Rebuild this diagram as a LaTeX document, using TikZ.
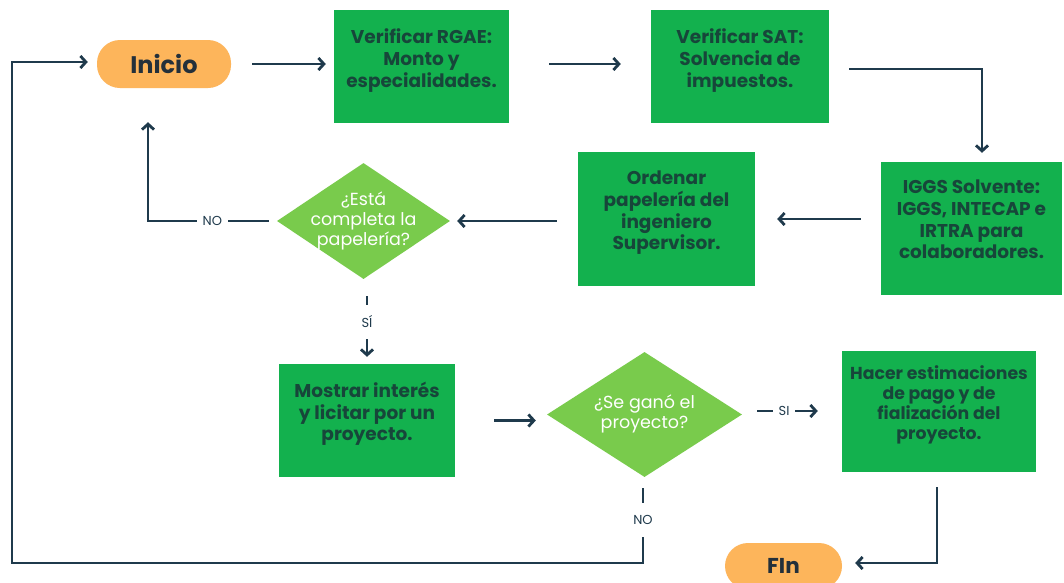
\documentclass[tikz,border=0pt]{standalone}
\usepackage{fontspec}
\setmainfont{Poppins}
\usetikzlibrary{shapes.geometric,arrows.meta,calc}
\definecolor{boxgreen}{HTML}{13B14E}
\definecolor{diagreen}{HTML}{79CB4C}
\definecolor{pill}{HTML}{FDB55B}
\definecolor{ink}{HTML}{1F3A4C}
\definecolor{boxink}{HTML}{17463A}
\definecolor{pillink}{HTML}{24303A}
\tikzset{
  stepbox/.style={rectangle, fill=boxgreen, draw=none, inner sep=0pt},
  boxtext/.style={align=center, text=boxink, font=\fontsize{18.5}{21.7}\selectfont\bfseries, inner sep=0pt, anchor=north},
  decision/.style={diamond, fill=diagreen, draw=none, inner sep=0pt},
  dtext/.style={align=center, text=white, font=\fontsize{17.5}{20}\selectfont, inner sep=0pt},
  terminal/.style={rectangle, rounded corners=23pt, fill=pill, draw=none, inner sep=0pt, text=pillink, font=\fontsize{24}{28}\selectfont\bfseries},
  conn/.style={draw=ink, line width=2.8pt},
  arr/.style={conn, -{Straight Barb[length=5.5pt,width=12pt]}},
  lbl/.style={fill=white, text=ink, font=\fontsize{13}{15}\selectfont, inner xsep=6pt, inner ysep=0pt},
}
\begin{document}
\begin{tikzpicture}[x=1pt,y=-1pt]
\useasboundingbox (0,0) rectangle (1064,582);
\fill[white] (0,0) rectangle (1064,582);
% nodes
\node[terminal, minimum width=134pt, minimum height=48pt] (inicio) at (164,64) {Inicio};
\node[stepbox, minimum width=175pt, minimum height=113pt] (rgae) at (421.5,66.5) {};
\node[boxtext] (trgae) at ([yshift=-19pt]rgae.north) {Verificar RGAE:\\Monto y\\especialidades.};
\node[stepbox, minimum width=178pt, minimum height=113pt] (sat) at (740,66.5) {};
\node[boxtext] (tsat) at ([yshift=-19pt]sat.north) {Verificar SAT:\\Solvencia de\\impuestos.};
\node[stepbox, minimum width=181pt, minimum height=133pt] (iggs) at (971.5,228.5) {};
\node[boxtext] (tiggs) at ([yshift=-18pt]iggs.north) {IGGS Solvente:\\IGGS, INTECAP e\\IRTRA para\\colaboradores.};
\node[stepbox, minimum width=177pt, minimum height=134pt] (orden) at (666.5,219) {};
\node[boxtext] (torden) at ([yshift=-19pt]orden.north) {Ordenar\\papelería del\\ingeniero\\Supervisor.};
\node[decision, minimum width=173pt, minimum height=116pt] (d1) at (363.5,221) {};
\node[dtext] (td1) at (363.5,221) {¿Está\\completa la\\papelería?};
\node[stepbox, minimum width=176pt, minimum height=113pt] (mostrar) at (367,420.5) {};
\node[boxtext] (tmostrar) at ([yshift=-18pt]mostrar.north) {Mostrar interés\\y licitar por un\\proyecto.};
\node[decision, minimum width=195pt, minimum height=125pt] (d2) at (644.5,414.5) {};
\node[dtext] (td2) at (644.5,414) {¿Se ganó el\\proyecto?};
\node[stepbox, minimum width=194pt, minimum height=121pt] (hacer) at (939,411.5) {};
\node[boxtext, font=\fontsize{17.3}{20}\selectfont\bfseries] (thacer) at ([yshift=-15pt]hacer.north) {Hacer estimaciones\\de pago y de\\fialización del\\proyecto.};
\node[terminal, minimum width=117pt, minimum height=46pt, font=\fontsize{21.5}{25}\selectfont\bfseries] (fin) at (783.5,566) {FIn};
\coordinate (lb) at (12,563);
\coordinate (lt) at (12,62);
% connectors
\draw[arr, shorten <=21pt, shorten >=8pt] (inicio.east) -- (inicio.east -| rgae.west);
\draw[arr, shorten <=40pt, shorten >=30pt] ([yshift=2.5pt]rgae.east) -- ([yshift=2.5pt]sat.west);
\draw[arr, shorten <=20pt, shorten >=9pt] ([yshift=-2.5pt]sat.east) -| ([xshift=10.5pt]iggs.north);
\draw[arr, shorten <=20pt, shorten >=22pt] (orden.east -| iggs.west) -- (orden.east);
\draw[arr, shorten <=21pt, shorten >=7pt] (d1.east -| orden.west) -- (d1.east);
\draw[arr, shorten <=8pt, shorten >=34pt] (d1.west) -- node[lbl, minimum height=14pt] {NO} ([xshift=-16pt]inicio.south |- d1.west) -- ([xshift=-16pt]inicio.south);
\draw[arr, shorten <=17pt, shorten >=7pt] (mostrar.north |- d1.south) -- node[lbl, minimum height=34pt, inner xsep=4pt] {SÍ} (mostrar.north);
\draw[arr, shorten <=39pt, shorten >=11pt] (mostrar.east) -- (mostrar.east -| d2.west);
\draw[arr, shorten <=15pt, shorten >=24pt] ([yshift=3.5pt]d2.east) -- node[lbl, pos=0.42, minimum height=14pt] {SI} ([yshift=3.5pt]d2.east -| hacer.west);
\draw[arr, shorten <=15pt, shorten >=13pt] ([xshift=-2pt]hacer.south) |- ([yshift=3pt]fin.east);
\draw[arr, shorten <=11pt, shorten >=9pt] ([xshift=-1.5pt]d2.south) -- node[lbl, minimum height=34pt, inner xsep=4pt] {NO} ([xshift=-1.5pt]d2.south |- lb) -- (lb) -- (lt) -- (lt -| inicio.west);
\end{tikzpicture}
\end{document}
